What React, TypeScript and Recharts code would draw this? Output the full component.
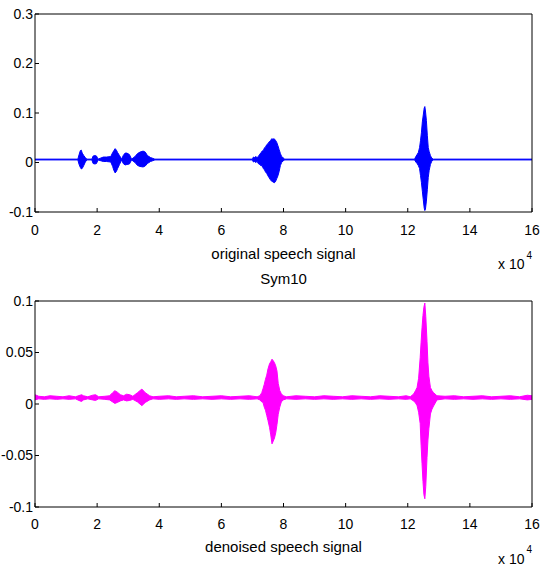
import React from 'react';
import { ComposedChart, Area, XAxis, YAxis } from 'recharts';

// x in units of 10^4 samples
const xTicks = [0, 2, 4, 6, 8, 10, 12, 14, 16];
const originalYTicks = [-0.1, 0, 0.1, 0.2, 0.3];
const denoisedYTicks = [-0.1, -0.05, 0, 0.05, 0.1];

// envelope of the waveform: [x, min, max]
const originalEnvelope: [number, number, number][] = [
  [0, 0.0052, 0.0068],
  [1.38, 0.0052, 0.0068],
  [1.42, -0.004, 0.016],
  [1.46, -0.01, 0.024],
  [1.49, -0.013, 0.025],
  [1.52, -0.012, 0.019],
  [1.57, -0.006, 0.014],
  [1.62, 0.001, 0.01],
  [1.67, 0.0052, 0.0068],
  [1.83, 0.0052, 0.0068],
  [1.87, -0.002, 0.013],
  [1.93, -0.003, 0.014],
  [1.98, -0.002, 0.013],
  [2.03, 0.0052, 0.0068],
  [2.2, 0.002, 0.011],
  [2.3, 0.002, 0.011],
  [2.44, 0.001, 0.012],
  [2.5, -0.008, 0.02],
  [2.54, -0.016, 0.024],
  [2.58, -0.021, 0.028],
  [2.62, -0.018, 0.025],
  [2.66, -0.012, 0.02],
  [2.72, -0.004, 0.014],
  [2.79, 0.0052, 0.0068],
  [2.84, -0.002, 0.014],
  [2.9, -0.005, 0.019],
  [2.96, -0.004, 0.019],
  [3.04, -0.003, 0.016],
  [3.11, 0.0052, 0.0068],
  [3.22, 0.0, 0.012],
  [3.3, -0.006, 0.018],
  [3.38, -0.008, 0.021],
  [3.48, -0.009, 0.023],
  [3.55, -0.007, 0.021],
  [3.62, -0.002, 0.014],
  [3.72, 0.002, 0.01],
  [3.86, 0.0052, 0.0068],
  [7.0, 0.0052, 0.0068],
  [7.03, 0.001, 0.011],
  [7.07, 0.002, 0.01],
  [7.1, 0.0, 0.012],
  [7.15, 0.002, 0.01],
  [7.2, -0.003, 0.013],
  [7.24, -0.004, 0.017],
  [7.28, -0.007, 0.02],
  [7.31, -0.006, 0.023],
  [7.35, -0.012, 0.024],
  [7.39, -0.015, 0.03],
  [7.42, -0.019, 0.031],
  [7.46, -0.022, 0.036],
  [7.5, -0.027, 0.038],
  [7.54, -0.031, 0.042],
  [7.58, -0.035, 0.044],
  [7.62, -0.038, 0.048],
  [7.66, -0.039, 0.047],
  [7.7, -0.041, 0.048],
  [7.74, -0.039, 0.045],
  [7.78, -0.033, 0.041],
  [7.82, -0.027, 0.034],
  [7.86, -0.018, 0.026],
  [7.9, -0.006, 0.018],
  [7.94, 0.0, 0.012],
  [7.98, 0.003, 0.01],
  [8.04, 0.0052, 0.0068],
  [12.22, 0.0052, 0.0068],
  [12.26, 0.001, 0.012],
  [12.3, -0.002, 0.016],
  [12.34, -0.006, 0.02],
  [12.38, -0.012, 0.03],
  [12.41, -0.026, 0.044],
  [12.44, -0.04, 0.06],
  [12.47, -0.058, 0.082],
  [12.5, -0.075, 0.096],
  [12.53, -0.092, 0.11],
  [12.55, -0.097, 0.113],
  [12.57, -0.094, 0.104],
  [12.6, -0.078, 0.085],
  [12.63, -0.055, 0.055],
  [12.66, -0.03, 0.03],
  [12.69, -0.016, 0.022],
  [12.73, -0.004, 0.014],
  [12.77, 0.002, 0.009],
  [12.82, 0.0052, 0.0068],
  [16, 0.0052, 0.0068],
];

const denoisedEnvelope: [number, number, number][] = [
  [0, 0.004, 0.009],
  [0.12, 0.005, 0.0075],
  [0.3, 0.0045, 0.007],
  [0.48, 0.005, 0.008],
  [0.7, 0.0045, 0.0075],
  [0.9, 0.005, 0.007],
  [1.1, 0.0045, 0.008],
  [1.3, 0.005, 0.007],
  [1.45, 0.003, 0.0085],
  [1.5, 0.0025, 0.009],
  [1.56, 0.004, 0.008],
  [1.7, 0.005, 0.007],
  [1.85, 0.004, 0.0085],
  [1.95, 0.0035, 0.009],
  [2.05, 0.005, 0.007],
  [2.25, 0.0045, 0.0075],
  [2.4, 0.004, 0.008],
  [2.5, 0.002, 0.011],
  [2.57, 0.0006, 0.0129],
  [2.65, 0.0015, 0.0115],
  [2.75, 0.003, 0.009],
  [2.85, 0.004, 0.008],
  [2.95, 0.003, 0.0095],
  [3.05, 0.0035, 0.009],
  [3.15, 0.0045, 0.0075],
  [3.3, 0.002, 0.011],
  [3.44, -0.0016, 0.0145],
  [3.55, 0.0015, 0.011],
  [3.69, 0.004, 0.008],
  [3.8, 0.005, 0.007],
  [4.0, 0.0045, 0.0075],
  [4.3, 0.005, 0.008],
  [4.55, 0.0045, 0.007],
  [4.8, 0.005, 0.0075],
  [5.1, 0.0045, 0.008],
  [5.4, 0.005, 0.007],
  [5.7, 0.0045, 0.0075],
  [6.0, 0.005, 0.008],
  [6.3, 0.0045, 0.007],
  [6.6, 0.005, 0.0075],
  [6.9, 0.0045, 0.008],
  [7.15, 0.005, 0.007],
  [7.24, 0.004, 0.008],
  [7.3, 0.002, 0.011],
  [7.34, 0.0016, 0.0148],
  [7.38, -0.003, 0.019],
  [7.42, -0.006, 0.024],
  [7.46, -0.011, 0.028],
  [7.5, -0.016, 0.034],
  [7.55, -0.0226, 0.039],
  [7.59, -0.03, 0.041],
  [7.63, -0.0387, 0.0435],
  [7.67, -0.036, 0.042],
  [7.71, -0.033, 0.04],
  [7.75, -0.028, 0.037],
  [7.79, -0.02, 0.032],
  [7.83, -0.01, 0.02],
  [7.88, -0.003, 0.013],
  [7.93, 0.002, 0.01],
  [7.99, 0.004, 0.008],
  [8.1, 0.005, 0.007],
  [8.4, 0.0045, 0.008],
  [8.7, 0.005, 0.0075],
  [9.0, 0.0045, 0.007],
  [9.3, 0.005, 0.008],
  [9.6, 0.0045, 0.0075],
  [9.9, 0.005, 0.007],
  [10.2, 0.0045, 0.008],
  [10.5, 0.005, 0.0075],
  [10.8, 0.0045, 0.007],
  [11.1, 0.005, 0.008],
  [11.4, 0.0045, 0.0075],
  [11.7, 0.005, 0.007],
  [11.95, 0.0045, 0.008],
  [12.08, 0.005, 0.007],
  [12.19, 0.003, 0.0097],
  [12.25, 0.001, 0.013],
  [12.3, -0.0016, 0.016],
  [12.35, -0.008, 0.025],
  [12.4, -0.019, 0.045],
  [12.43, -0.04, 0.06],
  [12.46, -0.058, 0.074],
  [12.49, -0.075, 0.086],
  [12.52, -0.088, 0.094],
  [12.55, -0.092, 0.098],
  [12.58, -0.08, 0.085],
  [12.62, -0.052, 0.061],
  [12.65, -0.035, 0.04],
  [12.68, -0.024, 0.027],
  [12.73, -0.0097, 0.016],
  [12.78, -0.005, 0.013],
  [12.83, -0.002, 0.011],
  [12.94, 0.004, 0.008],
  [13.2, 0.005, 0.0075],
  [13.5, 0.0045, 0.008],
  [13.8, 0.005, 0.007],
  [14.1, 0.0045, 0.0075],
  [14.4, 0.005, 0.008],
  [14.7, 0.0045, 0.007],
  [15.0, 0.005, 0.0075],
  [15.3, 0.0045, 0.008],
  [15.6, 0.005, 0.007],
  [15.85, 0.004, 0.0085],
  [16, 0.0045, 0.008],
];

const FONT = "'Liberation Sans', Arial, sans-serif";

const toRows = (env: [number, number, number][]) =>
  env.map(([x, lo, hi]) => ({ x, band: [lo, hi] }));

interface PanelProps {
  rows: { x: number; band: number[] }[];
  color: string;
  yTicks: number[];
  height: number;
  marginTop: number;
  xAxisHeight: number;
  tickGap: number;
}

const SignalPanel = ({ rows, color, yTicks, height, marginTop, xAxisHeight, tickGap }: PanelProps) => {
  const yDomain = [yTicks[0], yTicks[yTicks.length - 1]];
  return (
    <ComposedChart width={541} height={height} data={rows} margin={{ top: marginTop, right: 8, bottom: 0, left: 0 }}>
      <XAxis
        xAxisId="bottom"
        dataKey="x"
        type="number"
        domain={[0, 16]}
        ticks={xTicks}
        interval={0}
        allowDataOverflow
        height={xAxisHeight}
        tickSize={-4}
        tickMargin={tickGap}
        stroke="#000"
        tick={{ fill: '#000', fontSize: 14 }}
      />
      {/* box: ticks on the top edge */}
      <XAxis
        xAxisId="top"
        orientation="top"
        dataKey="x"
        type="number"
        domain={[0, 16]}
        ticks={xTicks}
        interval={0}
        allowDataOverflow
        height={1}
        tickSize={-4}
        tick={false}
        stroke="#000"
      />
      <YAxis
        yAxisId="left"
        type="number"
        domain={yDomain}
        ticks={yTicks}
        interval={0}
        allowDataOverflow
        width={35}
        tickSize={-4}
        tickMargin={6}
        stroke="#000"
        tick={{ fill: '#000', fontSize: 14 }}
      />
      {/* box: ticks on the right edge */}
      <YAxis
        yAxisId="right"
        orientation="right"
        type="number"
        domain={yDomain}
        ticks={yTicks}
        interval={0}
        allowDataOverflow
        width={1}
        tickSize={-4}
        tick={false}
        stroke="#000"
      />
      <Area
        xAxisId="bottom"
        yAxisId="left"
        dataKey="band"
        type="linear"
        stroke={color}
        strokeWidth={1}
        fill={color}
        fillOpacity={1}
        dot={false}
        activeDot={false}
        isAnimationActive={false}
      />
    </ComposedChart>
  );
};

export default function App() {
  return (
    <div style={{ position: 'absolute', left: 0, top: 0, width: 541, height: 568, background: '#fff', fontFamily: FONT }}>
      <div style={{ position: 'absolute', left: 0, top: 0 }}>
        <SignalPanel
          rows={toRows(originalEnvelope)}
          color="#0000ff"
          yTicks={originalYTicks}
          height={290}
          marginTop={13}
          xAxisHeight={78}
          tickGap={17}
        />
      </div>
      <div style={{ position: 'absolute', left: 0, top: 290 }}>
        <SignalPanel
          rows={toRows(denoisedEnvelope)}
          color="#ff00ff"
          yTicks={denoisedYTicks}
          height={278}
          marginTop={10}
          xAxisHeight={61}
          tickGap={16}
        />
      </div>
      <svg width={541} height={568} style={{ position: 'absolute', left: 0, top: 0, pointerEvents: 'none' }}>
        <g fill="#000" fontFamily={FONT}>
          <text x={283.5} y={259} fontSize={15} textAnchor="middle">original speech signal</text>
          <text x={498} y={269} fontSize={14}>x 10</text>
          <text x={526.5} y={259} fontSize={10}>4</text>
          <text x={283.5} y={284} fontSize={15} textAnchor="middle">Sym10</text>
          <text x={283.5} y={552} fontSize={15} textAnchor="middle">denoised speech signal</text>
          <text x={498} y={563.5} fontSize={14}>x 10</text>
          <text x={526.5} y={552.5} fontSize={10}>4</text>
        </g>
      </svg>
    </div>
  );
}
